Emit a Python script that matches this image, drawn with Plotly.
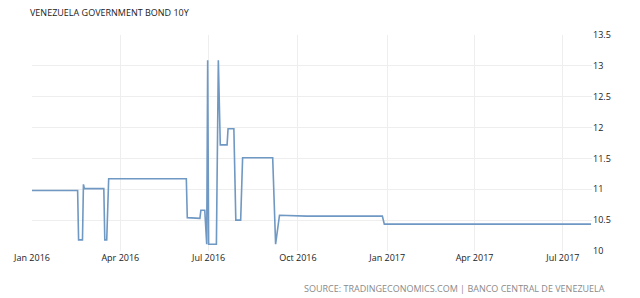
import plotly.graph_objects as go

dates = [
    "2016-01-01", "2016-02-17", "2016-02-18", "2016-02-22", "2016-02-23", "2016-02-24",
    "2016-03-15", "2016-03-16", "2016-03-18", "2016-03-20", "2016-06-08", "2016-06-09",
    "2016-06-22", "2016-06-23", "2016-06-27", "2016-06-29", "2016-06-30", "2016-07-01",
    "2016-07-09", "2016-07-11", "2016-07-13", "2016-07-20", "2016-07-21", "2016-07-27",
    "2016-07-29", "2016-08-03", "2016-08-05", "2016-09-05", "2016-09-08", "2016-09-12",
    "2016-10-10", "2016-12-27", "2016-12-29", "2017-07-30",
]
values = [
    10.98, 10.98, 10.18, 10.18, 11.08, 11.01,
    11.01, 10.18, 10.18, 11.17, 11.17, 10.54,
    10.53, 10.66, 10.66, 10.11, 13.09, 10.11,
    10.11, 13.09, 11.72, 11.72, 11.98, 11.98,
    10.50, 10.50, 11.51, 11.51, 10.11, 10.58,
    10.565, 10.565, 10.435, 10.435,
]

x_tickvals = ["2016-01-01", "2016-04-01", "2016-07-01", "2016-10-01",
              "2017-01-01", "2017-04-01", "2017-07-01"]
x_ticktext = ["Jan 2016", "Apr 2016", "Jul 2016", "Oct 2016",
              "Jan 2017", "Apr 2017", "Jul 2017"]
y_tickvals = [10, 10.5, 11, 11.5, 12, 12.5, 13, 13.5]
y_ticktext = ["10", "10.5", "11", "11.5", "12", "12.5", "13", "13.5"]

title_text = "VENEZUELA GOVERNMENT BOND 10Y"
source_text = "SOURCE: TRADINGECONOMICS.COM | BANCO CENTRAL DE VENEZUELA"

fig = go.Figure()
fig.add_trace(go.Scatter(
    x=dates, y=values, mode="lines",
    line=dict(color="#6f98c3", width=1.6),
    hoverinfo="skip",
))

font_family = "Open Sans, DejaVu Sans, sans-serif"

fig.update_layout(
    width=640, height=298,
    margin=dict(l=32, r=48, t=35, b=47),
    paper_bgcolor="white", plot_bgcolor="white",
    showlegend=False,
    font=dict(family=font_family, size=9, color="#222222"),
    title=dict(
        text=title_text, x=30/640, xanchor="left", xref="container",
        y=1 - 13/298, yanchor="middle", yref="container",
        font=dict(family=font_family, size=9, color="#222222"),
    ),
    xaxis=dict(
        range=["2016-01-01", "2017-07-31"],
        tickvals=x_tickvals, ticktext=x_ticktext,
        showgrid=True, gridcolor="#eeeeee", gridwidth=1,
        zeroline=False, showline=False,
        ticks="", tickfont=dict(size=9, color="#222222"),
    ),
    yaxis=dict(
        range=[10, 13.5], side="right",
        tickvals=y_tickvals, ticktext=y_ticktext,
        showgrid=True, gridcolor="#eeeeee", gridwidth=1,
        zeroline=False, showline=False,
        ticks="", tickfont=dict(size=9, color="#222222"),
    ),
    annotations=[dict(
        text=source_text, xref="paper", yref="paper",
        x=(607 - 32) / 560, y=(251 - 288) / 216,
        xanchor="right", yanchor="middle", showarrow=False,
        font=dict(family=font_family, size=9, color="#8a8a8a"),
    )],
)

fig.write_html("out.html")
